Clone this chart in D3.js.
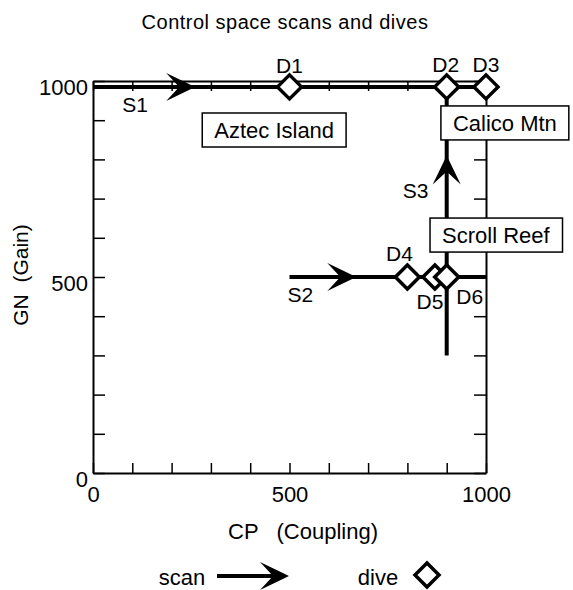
<!DOCTYPE html>
<html>
<head>
<meta charset="utf-8">
<script src="https://cdn.jsdelivr.net/npm/d3@7"></script>
<style>
  body { margin: 0; background: #fff; }
  svg text { font-family: "Liberation Sans", Arial, Helvetica, sans-serif; fill: #000; white-space: pre; }
</style>
</head>
<body>
<svg id="chart"></svg>
<script>
// scans: start point, end point and where the arrow tip sits
var scanNames = ["S1", "S2", "S3"];
var scanStartCP = [0, 500, 900];
var scanStartGN = [985, 500, 300];
var scanEndCP = [1000, 1000, 900];
var scanEndGN = [985, 500, 985];
var scanArrowCP = [260, 670, 900];
var scanArrowGN = [985, 500, 810];

// dives
var diveNames = ["D1", "D2", "D3", "D4", "D5", "D6"];
var diveCP = [500, 900, 1000, 800, 870, 900];
var diveGN = [985, 985, 985, 500, 500, 500];

// named regions (label centre in control space)
var regionNames = ["Aztec Island", "Calico Mtn", "Scroll Reef"];
var regionCP = [461, 1048, 1025];
var regionGN = [875, 893, 607];

var tickValues = [0, 100, 200, 300, 400, 500, 600, 700, 800, 900, 1000];
var labelledTicks = [0, 500, 1000];

var width = 573, height = 590;

var svg = d3.select("#chart")
    .attr("width", width)
    .attr("height", height);

var x = d3.scaleLinear().domain([0, 1000]).range([93, 486]);
var y = d3.scaleLinear().domain([0, 1000]).range([473, 81]);

var fmt = function(d) { return labelledTicks.indexOf(d) >= 0 ? d : ""; };

// label offsets in pixels, relative to the mark they belong to
var scanLabelOffset = { S1: [-60, 18], S2: [-56, 17], S3: [-31, 35] };
var diveLabelOffset = { D1: [0, -21], D2: [-1, -22], D3: [0, -22], D4: [-8, -24], D5: [-5, 24], D6: [23, 19] };

// title
svg.append("text")
    .attr("x", 285)
    .attr("y", 29)
    .attr("text-anchor", "middle")
    .attr("font-size", "20px")
    .attr("letter-spacing", "0.5px")
    .text("Control space scans and dives");

// axes, ticks pointing into the frame
var gLeft = svg.append("g")
    .attr("transform", "translate(" + x(0) + ",0)")
    .call(d3.axisLeft(y).tickValues(tickValues).tickFormat(fmt).tickSize(-12).tickSizeOuter(0).tickPadding(5));
gLeft.selectAll("text").attr("y", 6).attr("font-size", "22px");

var gBottom = svg.append("g")
    .attr("transform", "translate(0," + y(0) + ")")
    .call(d3.axisBottom(x).tickValues(tickValues).tickFormat(fmt).tickSize(-10).tickSizeOuter(0).tickPadding(13));
gBottom.selectAll("text").attr("font-size", "22px");

var gTop = svg.append("g")
    .attr("transform", "translate(0," + y(1000) + ")")
    .call(d3.axisTop(x).tickValues(tickValues).tickFormat("").tickSize(-10).tickSizeOuter(0));

var gRight = svg.append("g")
    .attr("transform", "translate(" + x(1000) + ",0)")
    .call(d3.axisRight(y).tickValues(tickValues).tickFormat("").tickSize(-12).tickSizeOuter(0));

svg.selectAll(".domain").attr("stroke", "#000").attr("stroke-width", 2);
svg.selectAll(".tick line").attr("stroke", "#000").attr("stroke-width", 1.5);

// axis titles
svg.append("text")
    .attr("transform", "translate(28,275) rotate(-90)")
    .attr("text-anchor", "middle")
    .attr("font-size", "21px")
    .text("GN  (Gain)");

svg.append("text")
    .attr("x", 303)
    .attr("y", 539)
    .attr("text-anchor", "middle")
    .attr("font-size", "22px")
    .text("CP   (Coupling)");

// arrow head shape, tip at origin pointing along +x
var arrowHead = "M0,0 L-29,-14 L-16,0 L-29,14 Z";

// scans
scanNames.forEach(function(name, i) {
  svg.append("line")
      .attr("x1", x(scanStartCP[i]))
      .attr("y1", y(scanStartGN[i]))
      .attr("x2", x(scanEndCP[i]))
      .attr("y2", y(scanEndGN[i]))
      .attr("stroke", "#000")
      .attr("stroke-width", 4);

  var ax = x(scanArrowCP[i]), ay = y(scanArrowGN[i]);
  var angle = Math.atan2(y(scanEndGN[i]) - y(scanStartGN[i]), x(scanEndCP[i]) - x(scanStartCP[i])) * 180 / Math.PI;
  svg.append("path")
      .attr("d", arrowHead)
      .attr("transform", "translate(" + ax + "," + ay + ") rotate(" + angle + ")")
      .attr("fill", "#000");

  svg.append("text")
      .attr("x", ax + scanLabelOffset[name][0])
      .attr("y", ay + scanLabelOffset[name][1])
      .attr("dy", "0.36em")
      .attr("text-anchor", "middle")
      .attr("font-size", "21px")
      .text(name);
});

// dives
var diamond = "M0,-12 L12,0 L0,12 L-12,0 Z";
diveNames.forEach(function(name, i) {
  var cx = x(diveCP[i]), cy = y(diveGN[i]);
  svg.append("path")
      .attr("d", diamond)
      .attr("transform", "translate(" + cx + "," + cy + ")")
      .attr("fill", "#fff")
      .attr("stroke", "#000")
      .attr("stroke-width", 3.5)
      .attr("stroke-linejoin", "miter");

  svg.append("text")
      .attr("x", cx + diveLabelOffset[name][0])
      .attr("y", cy + diveLabelOffset[name][1])
      .attr("dy", "0.36em")
      .attr("text-anchor", "middle")
      .attr("font-size", "21px")
      .text(name);
});

// region boxes sit on top of the lines
regionNames.forEach(function(name, i) {
  var g = svg.append("g")
      .attr("transform", "translate(" + x(regionCP[i]) + "," + y(regionGN[i]) + ")");
  var rect = g.append("rect").attr("fill", "#fff").attr("stroke", "#000").attr("stroke-width", 1.5);
  var t = g.append("text")
      .attr("text-anchor", "middle")
      .attr("dy", "0.36em")
      .attr("font-size", "22px")
      .text(name);
  var bb = t.node().getBBox();
  rect.attr("x", bb.x - 12)
      .attr("y", -17)
      .attr("width", bb.width + 24)
      .attr("height", 34);
});

// legend
svg.append("text")
    .attr("x", 182)
    .attr("y", 577)
    .attr("dy", "0.36em")
    .attr("text-anchor", "middle")
    .attr("font-size", "22px")
    .text("scan");

svg.append("line")
    .attr("x1", 217).attr("y1", 576)
    .attr("x2", 284).attr("y2", 576)
    .attr("stroke", "#000")
    .attr("stroke-width", 4);

svg.append("path")
    .attr("d", arrowHead)
    .attr("transform", "translate(289,576)")
    .attr("fill", "#000");

svg.append("text")
    .attr("x", 378)
    .attr("y", 577)
    .attr("dy", "0.36em")
    .attr("text-anchor", "middle")
    .attr("font-size", "22px")
    .text("dive");

svg.append("path")
    .attr("d", diamond)
    .attr("transform", "translate(427,575)")
    .attr("fill", "#fff")
    .attr("stroke", "#000")
    .attr("stroke-width", 3.5);
</script>
</body>
</html>
